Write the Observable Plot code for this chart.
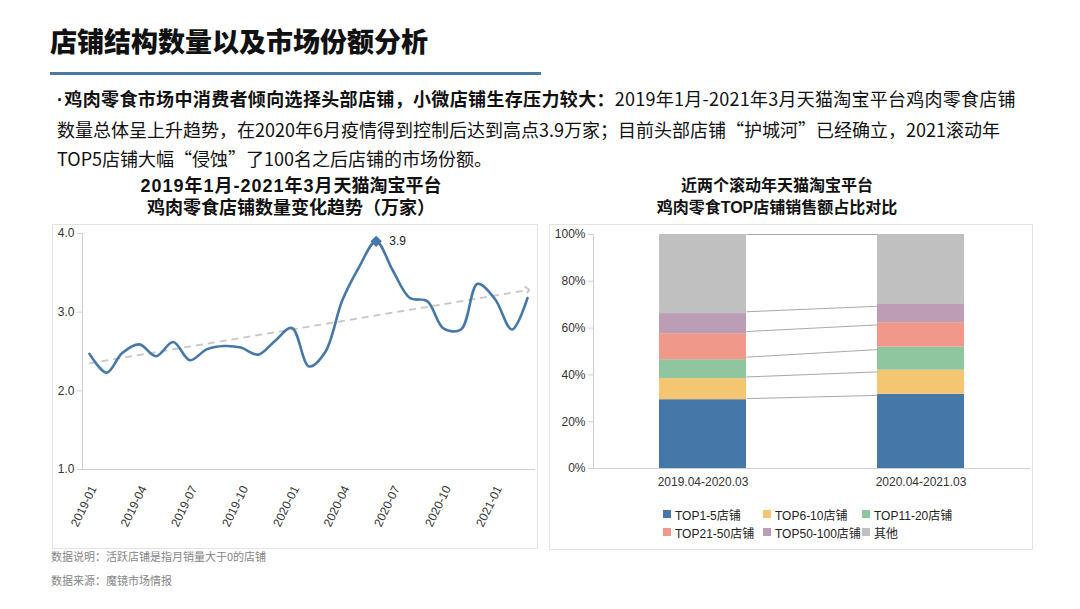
<!DOCTYPE html>
<html lang="zh-CN">
<head>
<meta charset="utf-8">
<title>店铺结构数量以及市场份额分析</title>
<script src="https://cdn.jsdelivr.net/npm/d3@7"></script>
<script src="https://cdn.jsdelivr.net/npm/@observablehq/plot@0.6"></script>
<style>
  html, body { margin: 0; padding: 0; background: #fff; }
  body { position: relative; width: 1080px; height: 609px; overflow: hidden;
         font-family: "Noto Sans CJK SC", "Noto Sans", sans-serif; color: #111; }
  .abs { position: absolute; }
  #title { left: 50px; top: 22px; font-size: 27px; line-height: 38px; font-weight: 900; white-space: nowrap; }
  #rule { left: 50px; top: 72px; width: 491px; height: 3px; background: #4a79a6; }
  #intro { left: 57px; top: 84px; font-size: 18px; line-height: 29px; white-space: nowrap; color: #111; }
  #intro b { font-weight: 700; letter-spacing: 0.35px; }
  #intro .lead { letter-spacing: 0.25px; }
  #intro .dot { font-family: "Liberation Sans", sans-serif; margin-right: 1px; }
  .panel { border: 1.5px solid #e3e3e3; box-sizing: border-box; }
  .ctitle { font-family: "Liberation Sans", "Noto Sans CJK SC", sans-serif; line-height: 22px;
            font-weight: 700; text-align: center; white-space: nowrap; color: #111; }
  .ctitle .num { letter-spacing: 1px; }
  #legend { left: 663px; top: 505px; display: grid; grid-template-columns: 100px 99px 110px; grid-auto-rows: 18px;
            font-family: "Liberation Sans", "Noto Sans CJK SC", sans-serif; font-size: 12px; color: #222; }
  .item { display: flex; align-items: center; white-space: nowrap; }
  .sw { width: 8px; height: 8px; margin-right: 4px; flex: none; }
  .note { left: 51px; font-size: 11px; line-height: 16px; color: #858585; white-space: nowrap; }
</style>
</head>
<body>
<div id="title" class="abs">店铺结构数量以及市场份额分析</div>
<div id="rule" class="abs"></div>
<div id="intro" class="abs">
  <div><b><span class="dot">·</span>鸡肉零食市场中消费者倾向选择头部店铺，小微店铺生存压力较大：</b><span class="lead">2019年1月-2021年3月天猫淘宝平台鸡肉零食店铺</span></div>
  <div>数量总体呈上升趋势，在2020年6月疫情得到控制后达到高点3.9万家；目前头部店铺“护城河”已经确立，2021滚动年</div>
  <div>TOP5店铺大幅“侵蚀”了100名之后店铺的市场份额。</div>
</div>

<div class="abs ctitle" style="left:52px; top:175px; width:478px; font-size:18px;"><span class="num">2019年1月-2021年3月</span>天猫淘宝平台<br>鸡肉零食店铺数量变化趋势（万家）</div>
<div class="abs ctitle" style="left:549px; top:175px; width:456px; font-size:16px;">近两个滚动年天猫淘宝平台<br>鸡肉零食TOP店铺销售额占比对比</div>

<div class="abs panel" style="left:52px; top:224px; width:486px; height:325px;"></div>
<div class="abs panel" style="left:549px; top:224px; width:484px; height:326px;"></div>

<div id="trendChart" class="abs" style="left:52px; top:224px;"></div>
<div id="shareChart" class="abs" style="left:549px; top:224px;"></div>
<div id="legend" class="abs"></div>

<div class="abs note" style="top:548px;">数据说明：活跃店铺是指月销量大于0的店铺</div>
<div class="abs note" style="top:572px;">数据来源：魔镜市场情报</div>

<script>
// Monthly active shop count on Tmall/Taobao (unit: 10k shops)
const monthLabels = [
  "2019-01","2019-02","2019-03","2019-04","2019-05","2019-06","2019-07","2019-08","2019-09",
  "2019-10","2019-11","2019-12","2020-01","2020-02","2020-03","2020-04","2020-05","2020-06",
  "2020-07","2020-08","2020-09","2020-10","2020-11","2020-12","2021-01","2021-02","2021-03"
];
const shopCounts = [
  2.47, 2.23, 2.48, 2.59, 2.44, 2.62, 2.39, 2.53, 2.57,
  2.55, 2.46, 2.63, 2.80, 2.31, 2.49, 3.15, 3.57, 3.90,
  3.53, 3.18, 3.14, 2.79, 2.78, 3.36, 3.17, 2.78, 3.18
];
// Dashed trend arrow: start and end level
const trendStart = 2.35;
const trendEnd = 3.28;
const countTicks = [1, 2, 3, 4];
const monthTicks = ["2019-01","2019-04","2019-07","2019-10","2020-01","2020-04","2020-07","2020-10","2021-01"];

// Sales share by shop rank tier, two rolling years (%)
const periods = ["2019.04-2020.03", "2020.04-2021.03"];
const tiers = ["TOP1-5店铺", "TOP6-10店铺", "TOP11-20店铺", "TOP21-50店铺", "TOP50-100店铺", "其他"];
const sharesFirstYear = [29.4, 9.0, 8.1, 11.1, 8.6, 33.8];
const sharesSecondYear = [31.7, 10.3, 9.9, 10.4, 7.8, 29.9];
const tierColors = ["#4577a8", "#f4c672", "#8fc69f", "#f0998a", "#bb9db6", "#c0c0c0"];
const pctTicks = [0, 20, 40, 60, 80, 100];

const axisFont = '"Liberation Sans", "Noto Sans CJK SC", sans-serif';
const axisGray = "#cfcfcf";
const lineBlue = "#4577a8";

// ---- Left: shop count trend ----
const parseMonth = d3.utcParse("%Y-%m");
const series = monthLabels.map((m, i) => ({date: parseMonth(m), value: shopCounts[i]}));
const peak = d3.greatest(series, d => d.value);
const trend = [{
  x1: series[0].date, y1: trendStart,
  x2: series[series.length - 1].date, y2: trendEnd
}];

const trendChart = Plot.plot({
  width: 486, height: 324,
  marginLeft: 30, marginRight: 3, marginTop: 9, marginBottom: 79,
  style: {background: "transparent", fontFamily: axisFont, fontSize: "12px", color: "#333", overflow: "visible"},
  x: {type: "utc", domain: d3.extent(series, d => d.date), insetLeft: 7, insetRight: 8},
  y: {domain: [1, 4]},
  marks: [
    Plot.frame({anchor: "left", stroke: axisGray}),
    Plot.ruleY([1], {stroke: axisGray}),
    Plot.axisY({ticks: countTicks, tickFormat: d3.format(".1f"), tickSize: 5, tickPadding: 3,
                stroke: axisGray, color: "#333", label: null}),
    Plot.axisX({ticks: monthTicks.map(parseMonth), tickFormat: d3.utcFormat("%Y-%m"), tickRotate: -64,
                tickSize: 0, tickPadding: 17, dx: 4, color: "#333", label: null}),
    Plot.link(trend, {x1: "x1", y1: "y1", x2: "x2", y2: "y2", stroke: "#c6c6c6", strokeWidth: 1.8,
                      strokeDasharray: "7,5", markerEnd: "arrow"}),
    Plot.line(series, {x: "date", y: "value", stroke: lineBlue, strokeWidth: 2.6, curve: "catmull-rom"}),
    Plot.dot([peak], {x: "date", y: "value", symbol: "diamond2", r: 4.2, fill: lineBlue, stroke: lineBlue}),
    Plot.text([peak], {x: "date", y: "value", text: d => d3.format(".1f")(d.value), dx: 13,
                       textAnchor: "start", fontSize: 12, fill: "#222"})
  ]
});
document.getElementById("trendChart").append(trendChart);

// ---- Right: stacked share bars with connectors ----
const shareSets = [sharesFirstYear, sharesSecondYear];
const rows = periods.flatMap((p, j) => tiers.map((t, i) => ({period: p, tier: t, share: shareSets[j][i]})));
const tops = shareSets.map(s => Array.from(d3.cumsum(s)));
const connectors = tiers.map((t, i) => ({p0: periods[0], p1: periods[1], from: tops[0][i], to: tops[1][i]}));

function shareOptions(extraMarks) {
  return {
    width: 483, height: 272,
    marginLeft: 44, marginRight: 2, marginTop: 10, marginBottom: 28,
    style: {background: "transparent", fontFamily: axisFont, fontSize: "12px", color: "#333", overflow: "visible"},
    x: {domain: periods, paddingInner: 0.6, paddingOuter: 0.3, label: null},
    y: {domain: [0, 100], label: null},
    color: {domain: tiers, range: tierColors},
    marks: [
      Plot.frame({anchor: "left", stroke: axisGray}),
      Plot.axisY({ticks: pctTicks, tickFormat: d => d + "%", tickSize: 5, tickPadding: 3,
                  stroke: axisGray, color: "#333", label: null}),
      Plot.axisX({tickSize: 0, tickPadding: 9, color: "#333", label: null}),
      Plot.barY(rows, {x: "period", y: "share", fill: "tier"}),
      Plot.ruleY([0], {stroke: axisGray}),
      ...extraMarks
    ]
  };
}

// First pass gives the band width, so connectors can run from bar edge to bar edge
const probe = Plot.plot(shareOptions([]));
const halfBand = probe.scale("x").bandwidth / 2;

const shareChart = Plot.plot(shareOptions([
  Plot.arrow(connectors, {x1: "p0", y1: "from", x2: "p1", y2: "to", headLength: 0,
                          insetStart: halfBand, insetEnd: halfBand,
                          stroke: "#a9a9a9", strokeWidth: 1, strokeLinecap: "butt"})
]));
document.getElementById("shareChart").append(shareChart);

// Legend from the chart's color scale
const colorScale = shareChart.scale("color");
const legend = d3.select("#legend");
colorScale.domain.forEach(t => {
  const item = legend.append("div").attr("class", "item");
  item.append("span").attr("class", "sw").style("background", colorScale.apply(t));
  item.append("span").text(t);
});
</script>
</body>
</html>
